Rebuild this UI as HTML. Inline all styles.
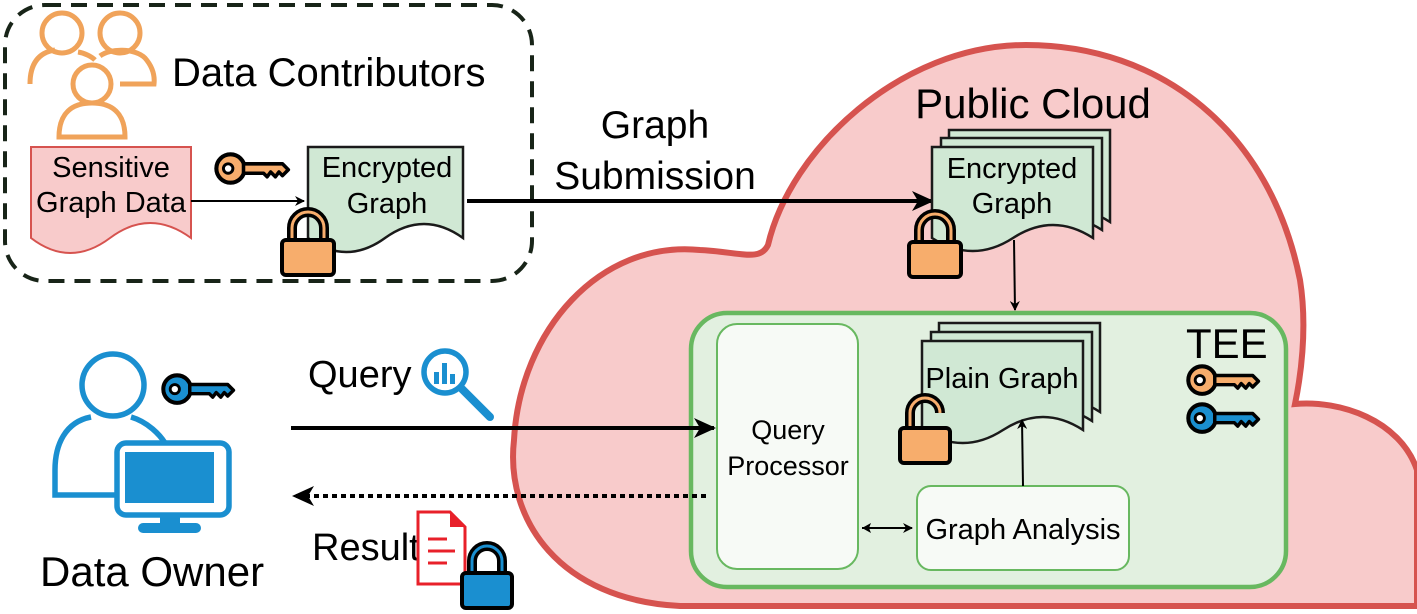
<!DOCTYPE html>
<html><head><meta charset="utf-8"><style>
html,body{margin:0;padding:0;background:#fff;}
svg{display:block;}
text{font-family:"Liberation Sans",sans-serif;fill:#000;}
</style></head><body>
<svg width="1417" height="614" viewBox="0 0 1417 614" xmlns="http://www.w3.org/2000/svg">
<defs>
<marker id="ah" markerWidth="10" markerHeight="10" refX="9" refY="5" orient="auto" markerUnits="userSpaceOnUse"><path d="M0,0 L10,5 L0,10 L3,5 Z" fill="#000"/></marker>
<marker id="ahb" markerWidth="22" markerHeight="20" refX="20" refY="10" orient="auto" markerUnits="userSpaceOnUse"><path d="M0,0 L22,10 L0,20 L6,10 Z" fill="#000"/></marker>
<g id="keyo"><circle cx="14" cy="14" r="12" fill="#f7ad6c" stroke="#000" stroke-width="3.5"/><circle cx="12" cy="14" r="4" fill="#fff" stroke="#000" stroke-width="2.5"/><path d="M25,10 H58 L63,15 L58,20 L55,17 L52,21 L48,17 L45,21 L42,18 H25 Z" fill="#f7ad6c" stroke="#000" stroke-width="3" stroke-linejoin="round"/></g>
<g id="keyb"><circle cx="14" cy="14" r="12" fill="#1a8fd0" stroke="#000" stroke-width="3.5"/><circle cx="12" cy="14" r="4" fill="#fff" stroke="#000" stroke-width="2.5"/><path d="M25,10 H58 L63,15 L58,20 L55,17 L52,21 L48,17 L45,21 L42,18 H25 Z" fill="#1a8fd0" stroke="#000" stroke-width="3" stroke-linejoin="round"/></g>
</defs>

<!-- Cloud -->
<path d="M680,606 C560,600 505,520 514,440 C520,330 600,240 700,250 C740,252 760,262 768,245 C790,150 900,45 1026,45 C1160,45 1270,130 1300,280 C1308,330 1300,380 1295,404 C1340,400 1400,420 1417,470 L1417,606 Z" fill="#f8cbcb" stroke="#d6534f" stroke-width="6"/>

<!-- Dashed contributor box -->
<rect x="5" y="5" width="527" height="276" rx="40" fill="none" stroke="#182418" stroke-width="4" stroke-dasharray="16,10"/>

<!-- people icon -->
<g fill="none" stroke="#f0a35a" stroke-width="5">
<circle cx="62" cy="33" r="20"/><path d="M30,84 C30,60 42,52 55,50 M78,52 C85,53 92,57 95,60"/>
<circle cx="120" cy="33" r="20"/><path d="M100,56 C110,48 135,48 145,58 C152,66 155,75 154,84 H120"/>
<circle cx="92" cy="84" r="19"/><path d="M59,137 C59,113 72,103 92,103 C112,103 125,113 125,137 Z"/>
</g>
<text x="172" y="86" font-size="40">Data Contributors</text>

<!-- Sensitive doc -->
<path d="M31,147 H191 V238 Q150,208 110,238 T31,238 Z" fill="#f8cbcb" stroke="#d6534f" stroke-width="2"/>
<text x="111" y="177" font-size="29" text-anchor="middle">Sensitive</text>
<text x="111" y="212" font-size="29" text-anchor="middle">Graph Data</text>
<line x1="191" y1="201" x2="304" y2="201" stroke="#000" stroke-width="2" marker-end="url(#ah)"/>
<use href="#keyo" transform="translate(214,152) scale(1.18)"/>

<!-- Encrypted doc left -->
<path d="M299,147 H454 V238 Q415,210 376,238 T299,238 Z" fill="#d0e8d4" stroke="#1a1a1a" stroke-width="2.5" transform="translate(9,0)"/>
<text x="387" y="177" font-size="29" text-anchor="middle">Encrypted</text>
<text x="387" y="213" font-size="29" text-anchor="middle">Graph</text>
<!-- lock -->
<g transform="translate(280,208)">
<path d="M12,32 V20 A16,16 0 0 1 44,20 V32" fill="none" stroke="#000" stroke-width="10"/>
<path d="M12,32 V20 A16,16 0 0 1 44,20 V32" fill="none" stroke="#f7ad6c" stroke-width="3"/>
<rect x="2" y="32" width="52" height="35" rx="4" fill="#f7ad6c" stroke="#000" stroke-width="4"/>
</g>

<!-- Graph submission -->
<line x1="467" y1="201" x2="932" y2="201" stroke="#000" stroke-width="4" marker-end="url(#ahb)"/>
<text x="655" y="138" font-size="39" text-anchor="middle">Graph</text>
<text x="655" y="189" font-size="39" text-anchor="middle">Submission</text>

<!-- Public Cloud -->
<text x="1033" y="118" font-size="42" text-anchor="middle">Public Cloud</text>
<g fill="#d0e8d4" stroke="#1a1a1a" stroke-width="2.5">
<path d="M949,130 H1110 V222 Q1070,196 1030,222 T949,222 Z"/>
<path d="M941,138 H1102 V230 Q1062,204 1022,230 T941,230 Z"/>
<path d="M932,147 H1093 V238 Q1053,212 1013,238 T932,238 Z"/>
</g>
<text x="1012" y="178" font-size="29" text-anchor="middle">Encrypted</text>
<text x="1012" y="213" font-size="29" text-anchor="middle">Graph</text>
<g transform="translate(907,210)">
<path d="M12,32 V20 A16,16 0 0 1 44,20 V32" fill="none" stroke="#000" stroke-width="10"/>
<path d="M12,32 V20 A16,16 0 0 1 44,20 V32" fill="none" stroke="#f7ad6c" stroke-width="3"/>
<rect x="2" y="32" width="52" height="35" rx="4" fill="#f7ad6c" stroke="#000" stroke-width="4"/>
</g>
<line x1="1014" y1="240" x2="1015" y2="310" stroke="#000" stroke-width="2" marker-end="url(#ah)"/>

<!-- TEE -->
<rect x="691" y="313" width="595" height="274" rx="36" fill="#e2f0e0" stroke="#68b860" stroke-width="4.5"/>
<text x="1186" y="358" font-size="42">TEE</text>
<use href="#keyo" transform="translate(1186,364) scale(1.15)"/>
<use href="#keyb" transform="translate(1186,402) scale(1.15)"/>
<rect x="717" y="324" width="141" height="245" rx="20" fill="#f7faf6" stroke="#68b860" stroke-width="2"/>
<text x="788" y="439" font-size="27" text-anchor="middle">Query</text>
<text x="788" y="475" font-size="27" text-anchor="middle">Processor</text>
<rect x="917" y="486" width="212" height="84" rx="14" fill="#f7faf6" stroke="#68b860" stroke-width="2"/>
<text x="1023" y="539" font-size="29" text-anchor="middle">Graph Analysis</text>
<line x1="862" y1="528" x2="912" y2="528" stroke="#000" stroke-width="2" marker-end="url(#ah)"/>
<path d="M862,528 l9,-5 l-2,5 l2,5 z" fill="#000"/>

<!-- Plain graph stack -->
<g fill="#d0e8d4" stroke="#1a1a1a" stroke-width="2.5">
<path d="M939,323 H1100 V412 Q1060,386 1020,412 T939,412 Z"/>
<path d="M931,332 H1092 V421 Q1052,395 1012,421 T931,421 Z"/>
<path d="M922,341 H1083 V430 Q1043,404 1003,430 T922,430 Z"/>
</g>
<text x="1002" y="388" font-size="29" text-anchor="middle">Plain Graph</text>
<line x1="1023" y1="486" x2="1022" y2="420" stroke="#000" stroke-width="2" marker-end="url(#ah)"/>
<!-- unlocked lock -->
<g transform="translate(898,395)">
<path d="M12,34 V18 A15,15 0 0 1 42,18" fill="none" stroke="#000" stroke-width="10"/>
<path d="M12,34 V18 A15,15 0 0 1 42,18" fill="none" stroke="#f7ad6c" stroke-width="3"/>
<rect x="2" y="33" width="50" height="35" rx="4" fill="#f7ad6c" stroke="#000" stroke-width="4"/>
</g>

<!-- Data owner -->
<g fill="none" stroke="#1a8fd0" stroke-width="5.5">
<circle cx="113" cy="385" r="31"/>
<path d="M91,417 C65,422 55,445 55,470 V495 H115"/>
<path d="M131,417 C148,422 160,435 165,443"/>
</g>
<rect x="117" y="443" width="112" height="72" rx="9" fill="#fff" stroke="#1a8fd0" stroke-width="5.5"/>
<rect x="125" y="452" width="89" height="51" fill="#1a8fd0"/>
<rect x="160" y="515" width="20" height="10" fill="#1a8fd0"/>
<rect x="138" y="523" width="63" height="10" rx="5" fill="#1a8fd0"/>
<use href="#keyb" transform="translate(161,373) scale(1.15)"/>
<text x="40" y="586" font-size="42">Data Owner</text>

<!-- Query -->
<text x="308" y="387" font-size="38">Query</text>
<circle cx="445" cy="372" r="21" fill="#fff" stroke="#1a8fd0" stroke-width="5.5"/>
<rect x="434" y="372" width="5" height="12" fill="#1a8fd0"/><rect x="442" y="363" width="5" height="21" fill="#1a8fd0"/><rect x="450" y="374" width="5" height="10" fill="#1a8fd0"/>
<line x1="462" y1="389" x2="490" y2="417" stroke="#1a8fd0" stroke-width="8" stroke-linecap="round"/>
<line x1="291" y1="428" x2="714" y2="428" stroke="#000" stroke-width="4" marker-end="url(#ahb)"/>

<!-- Result -->
<line x1="706" y1="496" x2="294" y2="496" stroke="#000" stroke-width="4" stroke-dasharray="5,4" marker-end="url(#ahb)"/>
<text x="312" y="560" font-size="38">Result</text>
<path d="M418,512 H450 L465,527 V584 H418 Z" fill="#fff" stroke="#e8202a" stroke-width="3"/>
<path d="M450,512 V527 H465 Z" fill="#e8202a"/>
<g stroke="#e8202a" stroke-width="3"><line x1="428" y1="539" x2="447" y2="539"/><line x1="428" y1="551" x2="455" y2="551"/><line x1="428" y1="563" x2="447" y2="563"/></g>
<g transform="translate(460,543)">
<path d="M12,32 V18 A15,15 0 0 1 42,18 V32" fill="none" stroke="#000" stroke-width="10"/>
<path d="M12,32 V18 A15,15 0 0 1 42,18 V32" fill="none" stroke="#1a8fd0" stroke-width="3"/>
<rect x="2" y="30" width="50" height="35" rx="4" fill="#1a8fd0" stroke="#000" stroke-width="4"/>
</g>
</svg>
</body></html>
